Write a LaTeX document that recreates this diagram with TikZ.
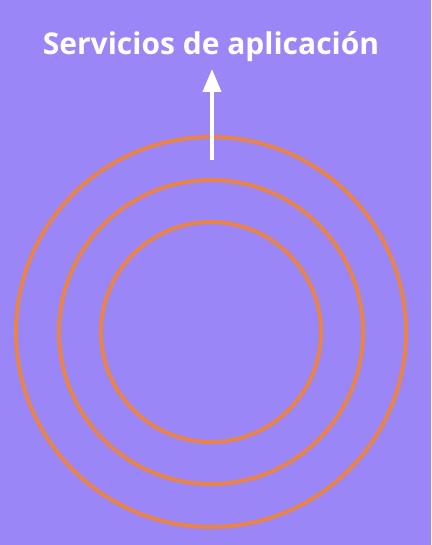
\documentclass[tikz,border=0pt]{standalone}
\usepackage{fontspec}
\setmainfont{Open Sans}
\usetikzlibrary{arrows.meta}
\definecolor{bg}{HTML}{9A86F7}
\definecolor{ring}{HTML}{E8834A}
\begin{document}
\begin{tikzpicture}[x=1pt,y=-1pt,
  ringstyle/.style={draw=ring,line width=4pt},
  titlestyle/.style={text=white,font=\bfseries\fontsize{30}{36}\selectfont,inner sep=0pt,anchor=base},
  arrowstyle/.style={draw=white,line width=4pt,-{Triangle[length=23pt,width=18pt]}}]
\fill[bg] (0,0) rectangle (431,545);
\useasboundingbox (0,0) rectangle (431,545);
\coordinate (c) at (211,332);
\draw[ringstyle] (c) circle[radius=195];
\draw[ringstyle] (c) circle[radius=152];
\draw[ringstyle] (c) circle[radius=110];
\node[titlestyle] (title) at (211,55) {Servicios de aplicación};
\coordinate (tail) at (212,160);
\coordinate (tip) at (212,69);
\draw[arrowstyle] (tail) -- (tip);
\end{tikzpicture}
\end{document}
